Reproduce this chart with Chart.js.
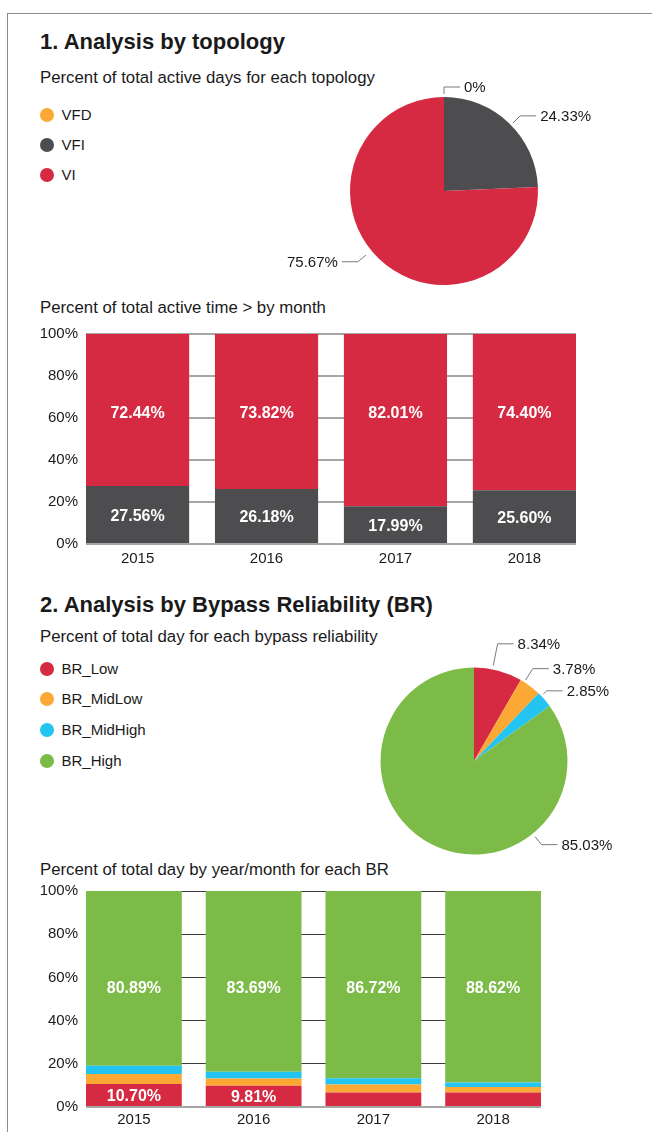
<!DOCTYPE html>
<html><head><meta charset="utf-8">
<script src="https://cdn.jsdelivr.net/npm/chart.js@4.4.0/dist/chart.umd.min.js"></script>
<style>
html,body{margin:0;padding:0;background:#fff;}
body{width:652px;height:1132px;position:relative;overflow:hidden;font-family:"Liberation Sans",Arial,sans-serif;color:#1a1a1a;}
#frame{position:absolute;left:7px;top:13px;width:660px;height:1140px;border-top:1px solid #8c8c8c;border-left:1px solid #8c8c8c;}
.t{position:absolute;left:40px;white-space:nowrap;}
.h{font-weight:bold;font-size:22px;line-height:26px;}
.s{font-size:16.8px;line-height:20px;}
.row{position:absolute;left:40px;height:20px;display:flex;align-items:center;font-size:15px;line-height:20px;white-space:nowrap;}
.dot{width:14px;height:14px;border-radius:50%;margin-right:7.5px;flex:none;}
canvas{position:absolute;}
</style></head>
<body>
<div id="frame"></div>
<div class="t h" style="top:29.4px">1. Analysis by topology</div>
<div class="t s" style="top:67.5px">Percent of total active days for each topology</div>
<div class="t s" style="top:297.5px">Percent of total active time &gt; by month</div>
<div class="t h" style="top:591.7px">2. Analysis by Bypass Reliability (BR)</div>
<div class="t s" style="top:626.9px">Percent of total day for each bypass reliability</div>
<div class="t s" style="top:859.9px">Percent of total day by year/month for each BR</div>
<div id="leg1"></div>
<div id="leg2"></div>
<div style="position:absolute;left:280px;top:75px;width:328px;height:232px"><canvas id="pie1"></canvas></div>
<div style="position:absolute;left:330px;top:620px;width:288px;height:282px"><canvas id="pie2"></canvas></div>
<div style="position:absolute;left:0;top:317px;width:620px;height:253px"><canvas id="bar1"></canvas></div>
<div style="position:absolute;left:0;top:874px;width:620px;height:259px"><canvas id="bar2"></canvas></div>
<script>
// ---------- data ----------
const topologies = ['VFD', 'VFI', 'VI'];
const topologyShare = [0, 24.33, 75.67];
const years = ['2015', '2016', '2017', '2018'];
const vfdByYear = [0, 0, 0, 0];
const vfiByYear = [27.56, 26.18, 17.99, 25.60];
const viByYear = [72.44, 73.82, 82.01, 74.40];

const brLevels = ['BR_Low', 'BR_MidLow', 'BR_MidHigh', 'BR_High'];
const brShare = [8.34, 3.78, 2.85, 85.03];
const brLowByYear = [10.70, 9.81, 6.70, 6.70];
const brMidLowByYear = [4.60, 3.40, 3.70, 2.60];
const brMidHighByYear = [3.81, 3.10, 2.88, 2.08];
const brHighByYear = [80.89, 83.69, 86.72, 88.62];
const yTicks = [0, 20, 40, 60, 80, 100];

// ---------- styles ----------
const RED = '#d52a42', DARK = '#4d4d4f', ORANGE = '#fba834', BLUE = '#23c4f1', GREEN = '#7cbb47';
const topoColors = [ORANGE, DARK, RED];
const brColors = [RED, ORANGE, BLUE, GREEN];
const FONT = '"Liberation Sans", Arial, sans-serif';
Chart.defaults.font.family = FONT;
Chart.defaults.color = '#1a1a1a';
Chart.defaults.animation = false;

function legend(id, names, colors, top, step) {
  const el = document.getElementById(id);
  names.forEach((n, i) => {
    const r = document.createElement('div');
    r.className = 'row';
    r.style.top = (top + i * step) + 'px';
    r.innerHTML = '<span class="dot" style="background:' + colors[i] + '"></span><span>' + n + '</span>';
    el.appendChild(r);
  });
}
legend('leg1', topologies, topoColors, 105.2, 30);
legend('leg2', brLevels, brColors, 658.5, 30.7);

const fmt = v => (v === 0 ? '0' : v.toFixed(2)) + '%';

const leaderPlugin = {
  id: 'leaders',
  afterDatasetsDraw(chart, args, opts) {
    const ctx = chart.ctx;
    const meta = chart.getDatasetMeta(0);
    const vals = chart.data.datasets[0].data;
    ctx.save();
    ctx.strokeStyle = '#7a7a7a';
    ctx.lineWidth = 1;
    ctx.fillStyle = '#1a1a1a';
    ctx.font = '15px ' + FONT;
    ctx.textBaseline = 'middle';
    meta.data.forEach((arc, i) => {
      const s = opts.specs[i];
      const p = arc.getProps(['x', 'y', 'outerRadius'], true);
      const a = (s.angle - 90) * Math.PI / 180;
      const c = Math.cos(a), sn = Math.sin(a);
      const r0 = p.outerRadius + s.gap, r1 = p.outerRadius + s.elbow;
      const x0 = p.x + r0 * c, y0 = p.y + r0 * sn;
      const x1 = p.x + r1 * c, y1 = p.y + r1 * sn;
      const dir = c >= -1e-6 ? 1 : -1;
      const x2 = x1 + dir * opts.hLen;
      ctx.beginPath();
      ctx.moveTo(x0, y0); ctx.lineTo(x1, y1); ctx.lineTo(x2, y1);
      ctx.stroke();
      ctx.textAlign = dir > 0 ? 'left' : 'right';
      ctx.fillText(fmt(vals[i]), x2 + dir * opts.textGap, y1 + 1);
    });
    ctx.restore();
  }
};

function pie(id, labels, data, colors, pad, specs) {
  new Chart(document.getElementById(id), {
    type: 'pie',
    data: { labels, datasets: [{ data, backgroundColor: colors, borderWidth: 0 }] },
    options: {
      responsive: true, maintainAspectRatio: false,
      layout: { padding: pad },
      plugins: { legend: { display: false }, tooltip: { enabled: false },
        leaders: { specs, hLen: 16, textGap: 4 } }
    },
    plugins: [leaderPlugin]
  });
}
pie('pie1', topologies, topologyShare, topoColors, { top: 22, bottom: 22, left: 70, right: 70 }, [
  { angle: 0, gap: 3, elbow: 10 },
  { angle: 45.4, gap: 3, elbow: 13 },
  { angle: 230.6, gap: 7, elbow: 17.5 }
]);
pie('pie2', brLevels, brShare, brColors, { top: 47.5, bottom: 47.5, left: 50.5, right: 50.5 }, [
  { angle: 11.4, gap: 4, elbow: 26 },
  { angle: 32.5, gap: 2.5, elbow: 16 },
  { angle: 46, gap: 3, elbow: 7.5 },
  { angle: 141.1, gap: 3.7, elbow: 14 }
]);

const barLabelPlugin = {
  id: 'barLabels',
  afterDatasetsDraw(chart, args, opts) {
    const ctx = chart.ctx;
    const ys = chart.scales.y;
    const n = chart.data.datasets.length;
    ctx.save();
    ctx.fillStyle = '#ffffff';
    ctx.font = 'bold 16px ' + FONT;
    ctx.textAlign = 'center';
    ctx.textBaseline = 'middle';
    chart.data.datasets.forEach((ds, di) => {
      chart.getDatasetMeta(di).data.forEach((bar, i) => {
        const v = ds.data[i].y;
        if (v < opts.minValue) return;
        let cy = (bar.y + bar.base) / 2 + 2;
        if (di === n - 1) cy = ys.getPixelForValue(opts.topLabelAt);
        ctx.fillText(v.toFixed(2) + '%', bar.x, cy);
      });
    });
    ctx.restore();
  }
};

function bars(id, series, names, colors, opts) {
  new Chart(document.getElementById(id), {
    type: 'bar',
    data: {
      datasets: series.map((s, k) => ({
        label: names[k],
        data: s.map((v, i) => ({ x: i, y: v })),
        backgroundColor: colors[k], borderWidth: 0,
        barPercentage: 0.8, categoryPercentage: 1
      }))
    },
    options: {
      responsive: true, maintainAspectRatio: false,
      layout: { padding: { top: 11, right: opts.right, left: 0, bottom: 0 } },
      plugins: { legend: { display: false }, tooltip: { enabled: false },
        barLabels: { minValue: 8, topLabelAt: opts.topLabelAt } },
      scales: {
        x: {
          type: 'linear', stacked: true, min: -0.4, max: 3.4, offset: false,
          afterBuildTicks: s => { s.ticks = years.map((_, i) => ({ value: i })); },
          afterFit: s => { s.height = opts.xh; },
          grid: { display: false }, border: { display: false },
          ticks: { callback: v => years[v], font: { size: 15 }, color: '#1a1a1a', padding: opts.xpad, maxRotation: 0, autoSkip: false }
        },
        y: {
          stacked: true, min: 0, max: 100,
          afterBuildTicks: s => { s.ticks = yTicks.map(v => ({ value: v })); },
          afterFit: s => { s.width = 86; },
          border: { display: false },
          grid: { drawTicks: false, color: opts.gridColor, lineWidth: opts.gridWidth },
          ticks: { callback: v => v + '%', font: { size: 15 }, color: '#1a1a1a', padding: 8 }
        }
      }
    },
    plugins: [barLabelPlugin]
  });
}
bars('bar1', [vfdByYear, vfiByYear, viByYear], topologies, topoColors, {
  right: 44, xh: 26, xpad: -2.5, topLabelAt: 62.2,
  gridColor: '#a6a6a6', gridWidth: 2
});
bars('bar2', [brLowByYear, brMidLowByYear, brMidHighByYear, brHighByYear], brLevels, brColors, {
  right: 79, xh: 26, xpad: -4, topLabelAt: 54.7,
  gridColor: c => c.tick && c.tick.value === 0 ? '#a6a6a6' : '#3c3c3c',
  gridWidth: c => c.tick && c.tick.value === 0 ? 2 : 1
});
</script>
</body></html>
